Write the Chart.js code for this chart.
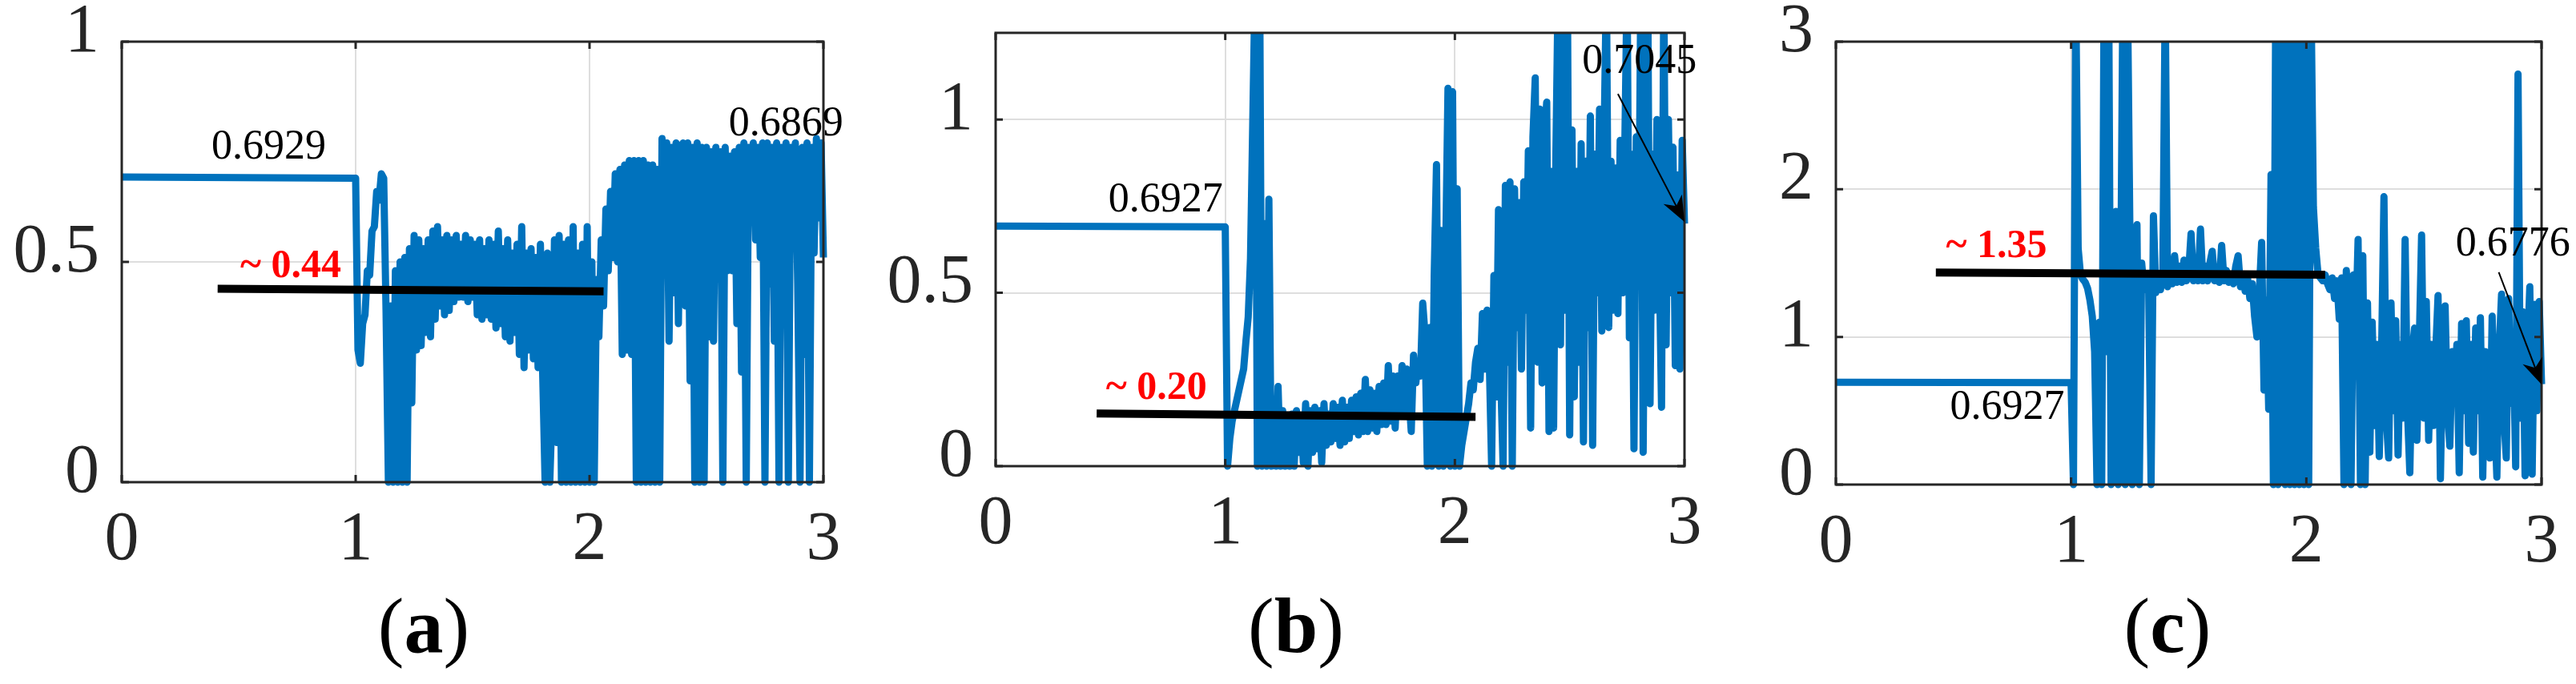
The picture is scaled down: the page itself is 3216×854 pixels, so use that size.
<!DOCTYPE html>
<html>
<head>
<meta charset="utf-8">
<script src="https://cdn.jsdelivr.net/npm/chart.js@4.4.1/dist/chart.umd.min.js"></script>
<style>
html, body { margin: 0; padding: 0; background: #fff; }
body { width: 3216px; height: 854px; position: relative; overflow: hidden; }
canvas { position: absolute; top: 0; }
.cap { position: absolute; top: 781px; transform: translate(-50%, -50%); font: 98px "Liberation Serif", "Times New Roman", serif; color: #000; white-space: nowrap; line-height: 1; }
</style>
</head>
<body>
<canvas id="panel-a" width="1060" height="760" style="left:0px"></canvas>
<canvas id="panel-b" width="1085" height="760" style="left:1065px"></canvas>
<canvas id="panel-c" width="1056" height="760" style="left:2160px"></canvas>
<div class="cap" style="left:529px">(<b>a</b>)</div>
<div class="cap" style="left:1618px">(<b>b</b>)</div>
<div class="cap" style="left:2706px">(<b>c</b>)</div>
<script>
// time axis, 0..1 is a flat start, then samples from 1.00 to 3.00
const time = [
  1.00, 1.01, 1.02, 1.03, 1.04, 1.05, 1.06, 1.07, 1.08, 1.09,
  1.10, 1.11, 1.12, 1.13, 1.14, 1.15, 1.16, 1.17, 1.18, 1.19,
  1.20, 1.21, 1.22, 1.23, 1.24, 1.25, 1.26, 1.27, 1.28, 1.29,
  1.30, 1.31, 1.32, 1.33, 1.34, 1.35, 1.36, 1.37, 1.38, 1.39,
  1.40, 1.41, 1.42, 1.43, 1.44, 1.45, 1.46, 1.47, 1.48, 1.49,
  1.50, 1.51, 1.52, 1.53, 1.54, 1.55, 1.56, 1.57, 1.58, 1.59,
  1.60, 1.61, 1.62, 1.63, 1.64, 1.65, 1.66, 1.67, 1.68, 1.69,
  1.70, 1.71, 1.72, 1.73, 1.74, 1.75, 1.76, 1.77, 1.78, 1.79,
  1.80, 1.81, 1.82, 1.83, 1.84, 1.85, 1.86, 1.87, 1.88, 1.89,
  1.90, 1.91, 1.92, 1.93, 1.94, 1.95, 1.96, 1.97, 1.98, 1.99,
  2.00, 2.01, 2.02, 2.03, 2.04, 2.05, 2.06, 2.07, 2.08, 2.09,
  2.10, 2.11, 2.12, 2.13, 2.14, 2.15, 2.16, 2.17, 2.18, 2.19,
  2.20, 2.21, 2.22, 2.23, 2.24, 2.25, 2.26, 2.27, 2.28, 2.29,
  2.30, 2.31, 2.32, 2.33, 2.34, 2.35, 2.36, 2.37, 2.38, 2.39,
  2.40, 2.41, 2.42, 2.43, 2.44, 2.45, 2.46, 2.47, 2.48, 2.49,
  2.50, 2.51, 2.52, 2.53, 2.54, 2.55, 2.56, 2.57, 2.58, 2.59,
  2.60, 2.61, 2.62, 2.63, 2.64, 2.65, 2.66, 2.67, 2.68, 2.69,
  2.70, 2.71, 2.72, 2.73, 2.74, 2.75, 2.76, 2.77, 2.78, 2.79,
  2.80, 2.81, 2.82, 2.83, 2.84, 2.85, 2.86, 2.87, 2.88, 2.89,
  2.90, 2.91, 2.92, 2.93, 2.94, 2.95, 2.96, 2.97, 2.98, 2.99,
  3.00
];

const startA = 0.6929;
const valuesA = [
  0.69, 0.30, 0.27, 0.36, 0.38, 0.48, 0.47, 0.57, 0.58, 0.66,
  0.64, 0.70, 0.69, 0.39, 0.00, 0.40, 0.00, 0.48, 0.00, 0.50,
  0.00, 0.51, 0.00, 0.53, 0.18, 0.56, 0.30, 0.55, 0.31, 0.53,
  0.34, 0.55, 0.33, 0.57, 0.37, 0.58, 0.40, 0.55, 0.38, 0.56,
  0.39, 0.55, 0.41, 0.56, 0.42, 0.54, 0.42, 0.56, 0.41, 0.55,
  0.42, 0.54, 0.38, 0.55, 0.37, 0.53, 0.38, 0.55, 0.37, 0.54,
  0.35, 0.57, 0.36, 0.53, 0.33, 0.55, 0.32, 0.52, 0.34, 0.54,
  0.29, 0.58, 0.26, 0.52, 0.30, 0.53, 0.28, 0.51, 0.26, 0.54,
  0.24, 0.00, 0.52, 0.00, 0.17, 0.55, 0.09, 0.56, 0.00, 0.54,
  0.00, 0.55, 0.00, 0.58, 0.00, 0.52, 0.00, 0.54, 0.00, 0.58,
  0.00, 0.50, 0.00, 0.46, 0.33, 0.55, 0.40, 0.62, 0.48, 0.66,
  0.51, 0.70, 0.50, 0.71, 0.29, 0.72, 0.30, 0.73, 0.29, 0.73,
  0.00, 0.73, 0.00, 0.73, 0.00, 0.72, 0.00, 0.72, 0.00, 0.71,
  0.00, 0.78, 0.57, 0.77, 0.32, 0.76, 0.43, 0.77, 0.36, 0.76,
  0.77, 0.40, 0.77, 0.23, 0.76, 0.00, 0.77, 0.00, 0.76, 0.00,
  0.76, 0.33, 0.75, 0.32, 0.76, 0.56, 0.75, 0.00, 0.76, 0.48,
  0.74, 0.48, 0.75, 0.36, 0.76, 0.25, 0.77, 0.00, 0.76, 0.59,
  0.77, 0.55, 0.76, 0.51, 0.77, 0.00, 0.77, 0.45, 0.76, 0.32,
  0.77, 0.00, 0.76, 0.46, 0.77, 0.00, 0.76, 0.53, 0.77, 0.45,
  0.00, 0.76, 0.29, 0.77, 0.00, 0.76, 0.52, 0.78, 0.60, 0.77,
  0.51
];

const startB = 0.6927;
const valuesB = [
  0.69, 0.00, 0.08, 0.13, 0.16, 0.19, 0.22, 0.25, 0.28, 0.36,
  0.43, 0.60, 1.00, 1.40, 0.00, 1.40, 0.00, 0.70, 0.00, 0.77,
  0.00, 0.12, 0.00, 0.23, 0.00, 0.16, 0.00, 0.14, 0.00, 0.15,
  0.00, 0.16, 0.04, 0.14, 0.01, 0.18, 0.00, 0.16, 0.04, 0.17,
  0.05, 0.16, 0.01, 0.18, 0.06, 0.15, 0.07, 0.18, 0.08, 0.17,
  0.06, 0.19, 0.07, 0.17, 0.08, 0.19, 0.10, 0.20, 0.09, 0.21,
  0.10, 0.25, 0.10, 0.22, 0.11, 0.21, 0.10, 0.23, 0.12, 0.24,
  0.12, 0.29, 0.13, 0.26, 0.11, 0.26, 0.15, 0.29, 0.16, 0.28,
  0.20, 0.10, 0.32, 0.24, 0.30, 0.26, 0.47, 0.38, 0.00, 0.40,
  0.00, 0.55, 0.87, 0.00, 0.68, 0.00, 0.62, 1.09, 0.00, 1.08,
  0.00, 0.80, 0.00, 0.06, 0.10, 0.14, 0.18, 0.24, 0.22, 0.30,
  0.34, 0.25, 0.44, 0.28, 0.45, 0.30, 0.00, 0.55, 0.20, 0.74,
  0.25, 0.00, 0.81, 0.30, 0.82, 0.00, 0.80, 0.40, 0.76, 0.28,
  0.82, 0.45, 0.91, 0.11, 0.95, 1.12, 0.30, 1.03, 0.24, 0.95,
  1.05, 0.10, 0.85, 0.11, 0.90, 1.40, 0.35, 1.40, 0.45, 1.40,
  0.09, 0.97, 0.20, 0.85, 0.30, 0.93, 0.07, 0.88, 0.40, 1.01,
  0.06, 0.90, 0.50, 1.03, 0.39, 0.95, 1.40, 0.40, 0.88, 0.45,
  0.86, 0.44, 0.94, 0.50, 0.92, 1.40, 0.37, 0.90, 0.05, 0.95,
  0.55, 1.40, 0.04, 0.92, 1.40, 0.18, 0.90, 0.45, 1.00, 0.60,
  0.17, 1.40, 0.35, 1.00, 0.50, 0.92, 0.29, 0.84, 0.28, 0.94,
  0.70
];

const startC = 0.6927;
const valuesC = [
  0.69, 0.00, 3.30, 1.60, 1.42, 1.39, 1.37, 1.33, 1.25, 1.14,
  0.90, 0.00, 1.10, 0.00, 3.30, 0.90, 3.30, 0.00, 1.20, 1.85,
  0.00, 1.15, 3.30, 0.00, 3.30, 1.70, 0.00, 1.20, 1.76, 0.00,
  1.50, 1.32, 1.40, 1.30, 0.00, 1.82, 1.30, 1.40, 1.32, 1.45,
  3.30, 1.34, 1.42, 1.36, 1.55, 1.37, 1.48, 1.37, 1.52, 1.38,
  1.45, 1.70, 1.38, 1.50, 1.38, 1.73, 1.38, 1.48, 1.38, 1.50,
  1.58, 1.38, 1.46, 1.37, 1.62, 1.38, 1.45, 1.37, 1.42, 1.36,
  1.48, 1.55, 1.34, 1.42, 1.31, 1.40, 1.26, 1.36, 1.14, 1.00,
  1.30, 1.64, 0.64, 1.25, 0.51, 2.10, 0.00, 3.30, 0.00, 2.40,
  3.30, 0.00, 3.30, 0.00, 3.30, 0.00, 3.30, 0.00, 3.30, 0.00,
  3.30, 0.00, 3.30, 1.88, 1.60, 1.42, 1.40, 1.38, 1.42, 1.36,
  1.32, 1.40, 1.26, 1.38, 1.12, 1.40, 0.00, 1.45, 1.10, 0.00,
  1.42, 1.05, 1.66, 0.00, 1.55, 0.00, 1.23, 0.22, 1.10, 0.40,
  0.95, 0.19, 0.90, 1.95, 0.45, 0.18, 1.23, 0.50, 1.11, 0.20,
  0.95, 0.45, 1.66, 0.50, 0.08, 0.90, 1.06, 0.30, 0.95, 1.69,
  0.45, 1.24, 0.30, 0.95, 0.40, 0.90, 1.28, 0.04, 0.92, 1.21,
  0.50, 0.26, 0.90, 0.55, 0.95, 0.08, 1.09, 0.50, 1.11, 0.28,
  0.95, 0.22, 1.06, 0.50, 1.13, 0.05, 0.90, 0.55, 0.18, 1.14,
  0.50, 0.05, 0.92, 1.29, 0.45, 0.18, 1.26, 0.55, 0.95, 0.12,
  2.78, 0.45, 1.17, 0.06, 0.90, 1.34, 0.07, 1.22, 0.50, 1.24,
  0.68
];

// black mean lines
const meanXA = [0.41, 2.06], meanYA = [0.439, 0.433];
const meanXB = [0.44, 2.09], meanYB = [0.152, 0.142];
const meanXC = [0.425, 2.08], meanYC = [1.436, 1.421];

const xTicks = [0, 1, 2, 3];
const yTicksA = [0, 0.5, 1];
const yTicksB = [0, 0.5, 1];
const yTicksC = [0, 1, 2, 3];

const BLUE = '#0072BD';
const AXIS = '#262626';
const SERIF = '"Liberation Serif", "Times New Roman", serif';

const framePlugin = {
    id: 'frame',
    afterDatasetsDraw(chart, args, opts) {
        const {ctx, chartArea: a, scales: {x, y}} = chart;
        ctx.save();
        // axes box + inward ticks
        ctx.strokeStyle = AXIS;
        ctx.lineWidth = 3;
        ctx.strokeRect(a.left, a.top, a.right - a.left, a.bottom - a.top);
        ctx.beginPath();
        x.ticks.forEach(t => {
            const px = x.getPixelForValue(t.value);
            ctx.moveTo(px, a.bottom); ctx.lineTo(px, a.bottom - 9);
            ctx.moveTo(px, a.top); ctx.lineTo(px, a.top + 9);
        });
        y.ticks.forEach(t => {
            const py = y.getPixelForValue(t.value);
            ctx.moveTo(a.left, py); ctx.lineTo(a.left + 9, py);
            ctx.moveTo(a.right, py); ctx.lineTo(a.right - 9, py);
        });
        ctx.stroke();

        (opts.notes || []).forEach(n => {
            ctx.font = n.font;
            ctx.fillStyle = n.color;
            ctx.textAlign = n.align || 'center';
            ctx.textBaseline = 'middle';
            ctx.fillText(n.text, x.getPixelForValue(n.x), y.getPixelForValue(n.y));
        });

        (opts.arrows || []).forEach(ar => {
            const x0 = x.getPixelForValue(ar.from[0]), y0 = y.getPixelForValue(ar.from[1]);
            const x1 = x.getPixelForValue(ar.to[0]), y1 = y.getPixelForValue(ar.to[1]);
            const ang = Math.atan2(y1 - y0, x1 - x0);
            ctx.strokeStyle = '#000';
            ctx.fillStyle = '#000';
            ctx.lineWidth = 2;
            ctx.beginPath();
            ctx.moveTo(x0, y0);
            ctx.lineTo(x1 - 20 * Math.cos(ang), y1 - 20 * Math.sin(ang));
            ctx.stroke();
            // vback-style head
            const len = 32, half = 13;
            ctx.save();
            ctx.translate(x1, y1);
            ctx.rotate(ang);
            ctx.beginPath();
            ctx.moveTo(0, 0);
            ctx.lineTo(-len, -half);
            ctx.lineTo(-len * 0.7, 0);
            ctx.lineTo(-len, half);
            ctx.closePath();
            ctx.fill();
            ctx.restore();
        });
        ctx.restore();
    }
};

function series(start, values) {
    return [{x: 0, y: start}].concat(time.map((t, i) => ({x: t, y: values[i]})));
}

function pairs(xs, ys) {
    return xs.map((v, i) => ({x: v, y: ys[i]}));
}

function makePanel(id, cfg) {
    new Chart(document.getElementById(id), {
        type: 'line',
        data: {
            datasets: [
                {
                    data: pairs(cfg.meanX, cfg.meanY),
                    borderColor: '#000',
                    borderWidth: 10,
                    borderCapStyle: 'butt',
                    pointRadius: 0,
                    order: 0,
                },
                {
                    data: series(cfg.start, cfg.values),
                    borderColor: BLUE,
                    borderWidth: 9,
                    borderJoinStyle: 'round',
                    pointRadius: 0,
                    tension: 0,
                    clip: {left: false, top: 0, right: false, bottom: false},
                    order: 1,
                },
            ]
        },
        options: {
            responsive: false,
            animation: false,
            devicePixelRatio: 1,
            layout: {padding: {left: 0, top: cfg.top, right: cfg.right, bottom: 0}},
            plugins: {
                legend: {display: false},
                tooltip: {enabled: false},
                frame: {notes: cfg.notes, arrows: cfg.arrows || []},
            },
            scales: {
                x: {
                    type: 'linear',
                    min: 0,
                    max: 3,
                    afterBuildTicks(s) { s.ticks = xTicks.map(v => ({value: v})); },
                    afterFit(s) { s.height = cfg.xh; s.paddingLeft = 0; s.paddingRight = 0; },
                    grid: {color: '#dedede', lineWidth: 2, drawTicks: false},
                    border: {display: false},
                    ticks: {
                        padding: 22,
                        color: AXIS,
                        maxRotation: 0,
                        font: {family: SERIF, size: 86},
                        callback: v => String(v),
                    }
                },
                y: {
                    type: 'linear',
                    min: 0,
                    max: cfg.ymax,
                    afterBuildTicks(s) { s.ticks = cfg.yTicks.map(v => ({value: v})); },
                    afterFit(s) { s.width = cfg.yw; s.paddingTop = 0; s.paddingBottom = 0; },
                    grid: {color: '#dedede', lineWidth: 2, drawTicks: false},
                    border: {display: false},
                    ticks: {
                        padding: 28,
                        labelOffset: -11,
                        color: AXIS,
                        font: {family: SERIF, size: 86},
                        callback: v => String(v),
                    }
                }
            }
        },
        plugins: [framePlugin]
    });
}

const noteFont = '52px ' + SERIF;
const redFont = 'bold 50px ' + SERIF;

makePanel('panel-a', {
    start: startA, values: valuesA, meanX: meanXA, meanY: meanYA,
    ymax: 1, yTicks: yTicksA, top: 52, right: 32, yw: 152, xh: 158,
    notes: [
        {text: '0.6929', x: 0.628, y: 0.76, font: noteFont, color: '#000'},
        {text: '~ 0.44', x: 0.723, y: 0.489, font: redFont, color: '#ff0000'},
        {text: '0.6869', x: 2.84, y: 0.813, font: noteFont, color: '#000'},
    ]
});

makePanel('panel-b', {
    start: startB, values: valuesB, meanX: meanXB, meanY: meanYB,
    ymax: 1.25, yTicks: yTicksB, top: 41, right: 47, yw: 178, xh: 178,
    notes: [
        {text: '0.6927', x: 0.74, y: 0.766, font: noteFont, color: '#000'},
        {text: '~ 0.20', x: 0.70, y: 0.225, font: redFont, color: '#ff0000'},
        {text: '0.7045', x: 2.804, y: 1.167, font: noteFont, color: '#000'},
    ],
    arrows: [{from: [2.71, 1.074], to: [3.0, 0.7045]}]
});

makePanel('panel-c', {
    start: startC, values: valuesC, meanX: meanXC, meanY: meanYC,
    ymax: 3, yTicks: yTicksC, top: 52, right: 43, yw: 132, xh: 155,
    notes: [
        {text: '0.6927', x: 0.729, y: 0.521, font: noteFont, color: '#000'},
        {text: '~ 1.35', x: 0.683, y: 1.613, font: redFont, color: '#ff0000'},
        {text: '0.6776', x: 2.635, y: 1.628, font: noteFont, color: '#000', align: 'left'},
    ],
    arrows: [{from: [2.818, 1.438], to: [3.0, 0.6776]}]
});
</script>
</body>
</html>
